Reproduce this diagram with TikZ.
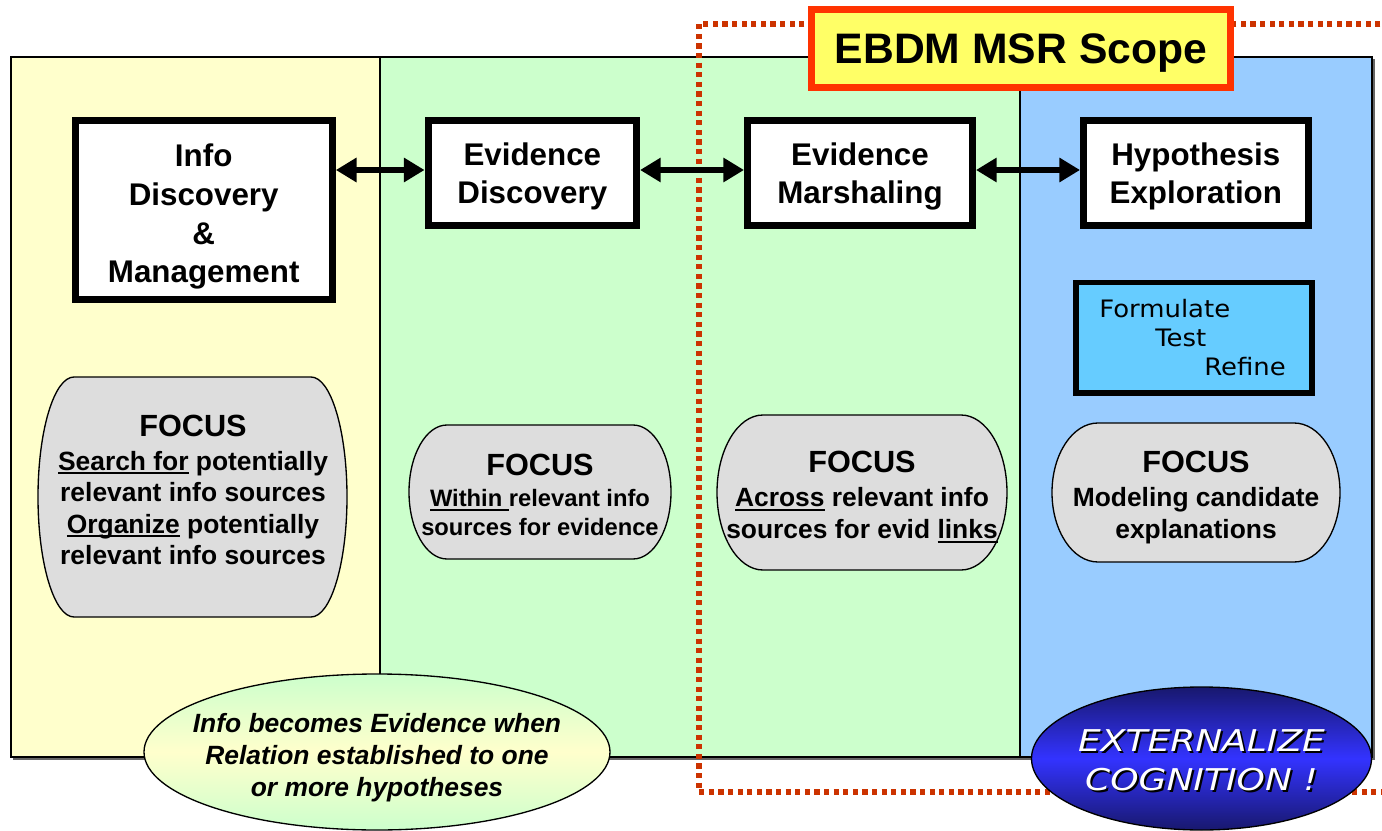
\documentclass[tikz,border=0pt]{standalone}
\usepackage{fontspec}
\setmainfont{Liberation Sans}
\newfontfamily\verdana[FakeStretch=1.08]{DejaVu Sans}
\newfontfamily\widesans[FakeStretch=1.2]{DejaVu Sans}
\usepackage{xcolor}
\usetikzlibrary{arrows.meta,shapes.geometric}

\definecolor{panelyellow}{RGB}{255,255,204}
\definecolor{panelgreen}{RGB}{204,255,204}
\definecolor{panelblue}{RGB}{153,204,255}
\definecolor{focusgray}{RGB}{221,221,221}
\definecolor{refineblue}{RGB}{102,204,255}
\definecolor{scopered}{RGB}{255,51,0}
\definecolor{scopedots}{RGB}{204,51,0}
\definecolor{scopeyellow}{RGB}{255,255,102}
\definecolor{deepnavy}{RGB}{24,24,110}
\definecolor{brightblue}{RGB}{51,51,255}
\definecolor{ellgreen}{RGB}{204,255,204}
\definecolor{ellyellow}{RGB}{255,255,204}

\newcommand{\undl}[1]{\setbox0\hbox{#1}\leavevmode\rlap{\rule[-3.2pt]{\wd0}{1.6pt}}\box0\relax}

\begin{document}
\begin{tikzpicture}[x=0.75pt,y=0.75pt,yscale=-1,xscale=1,
  stagebox/.style={draw, line width=5.25pt, fill=white, align=center, inner sep=0pt, text depth=-1pt, font=\fontsize{23.5}{29}\selectfont\bfseries},
  focusshape/.style={draw=black, line width=1pt, fill=focusgray},
  focustext/.style={align=center, inner sep=0pt, font=\fontsize{19.8}{23.6}\selectfont\bfseries},
  twoway/.style={{Triangle[length=15.5pt,width=17.5pt]}-{Triangle[length=15.5pt,width=17.5pt]}, line width=4.75pt},
  steptext/.style={anchor=west, inner sep=0pt, font=\verdana\fontsize{18}{22}\selectfont}]
\useasboundingbox (0,0) rectangle (1382,831);

%Shape: Rectangle (shadow)
\fill[black!60] (13,59) rectangle (1374.5,759.5);
%Shape: Rectangle
\draw[fill=panelyellow, line width=0.8pt] (11,57) rectangle (380,757);
%Shape: Rectangle
\draw[fill=panelgreen, line width=0.8pt] (380,57) rectangle (1020,757);
%Shape: Rectangle
\draw[fill=panelblue, line width=0.8pt] (1020,57) rectangle (1372,757);

%Shape: Dotted frame
\draw[scopedots, line width=3.9pt, dash pattern=on 3.9pt off 3.3pt] (1390,24) -- (699,24) -- (699,792) -- (1390,792);

% Text Node
\node[stagebox, minimum width=193pt, minimum height=134pt] (infodm) at (203.7,210) {\rule{0pt}{22pt}Info\\Discovery\\\&\\Management};
% Text Node
\node[stagebox, minimum width=156.4pt, minimum height=78.5pt] (evdisc) at (532.3,173.2) {Evidence\\Discovery};
% Text Node
\node[stagebox, minimum width=168.75pt, minimum height=78.5pt] (evmarsh) at (860,173.2) {Evidence\\Marshaling};
% Text Node
\node[stagebox, minimum width=168.4pt, minimum height=78.5pt] (hypexp) at (1195.8,173.2) {Hypothesis\\Exploration};

%Straight Lines
\draw[twoway] ([yshift=-2.4pt]infodm.east |- evdisc.west) -- ([yshift=-2.4pt]evdisc.west);
%Straight Lines
\draw[twoway] ([yshift=-2.4pt]evdisc.east) -- ([yshift=-2.4pt]evmarsh.west);
%Straight Lines
\draw[twoway] ([yshift=-2.4pt]evmarsh.east) -- ([yshift=-2.4pt]hypexp.west);

% Text Node
\node[draw=scopered, line width=5.25pt, fill=scopeyellow, minimum width=314.25pt, minimum height=58.5pt, inner sep=0pt, text depth=-1pt, font=\fontsize{32}{38}\selectfont\bfseries] (scope) at (1021,48.5) {EBDM MSR Scope};

%Shape: Rectangle
\node[draw, line width=4.25pt, fill=refineblue, minimum width=177pt, minimum height=82.9pt, inner sep=0pt] (ftrbox) at (1194,337.7) {};
% Text Node
\node[steptext] (formulate) at (1099,308.5) {Formulate};
% Text Node
\node[steptext] (testing) at (1155,337.5) {Test};
% Text Node
\node[steptext] (refine) at (1204,366.5) {Refine};

%Shape: Focus 1
\draw[focusshape] (74,377) -- (311,377) arc[start angle=-90, end angle=90, x radius=36, y radius=120] -- (74,617) arc[start angle=90, end angle=270, x radius=36, y radius=120] -- cycle;
% Text Node
\node[focustext] (focinfo) at (193,490) {{\fontsize{23}{27}\selectfont FOCUS}\\[1.5pt]\undl{Search for} potentially\\relevant info sources\\\undl{Organize} potentially\\relevant info sources};

%Shape: Focus 2
\draw[focusshape] (447,425) -- (633,425) arc[start angle=-90, end angle=90, x radius=38, y radius=67] -- (447,559) arc[start angle=90, end angle=270, x radius=38, y radius=67] -- cycle;
% Text Node
\node[focustext, font=\fontsize{17.8}{21.75}\selectfont\bfseries] (focdisc) at (540,495) {{\fontsize{23}{27}\selectfont FOCUS}\\[2pt]\undl{Within\ }relevant info\\sources for evidence};

%Shape: Focus 3
\draw[focusshape] (763,415) -- (961,415) arc[start angle=-90, end angle=90, x radius=46, y radius=77.5] -- (763,570) arc[start angle=90, end angle=270, x radius=46, y radius=77.5] -- cycle;
% Text Node
\node[focustext] (focmarsh) at (862,497) {{\fontsize{23}{27}\selectfont FOCUS}\\[2pt]\undl{Across} relevant info\\sources for evid \undl{links}};

%Shape: Focus 4
\draw[focusshape] (1098,423) -- (1294,423) arc[start angle=-90, end angle=90, x radius=46, y radius=69.5] -- (1098,562) arc[start angle=90, end angle=270, x radius=46, y radius=69.5] -- cycle;
% Text Node
\node[focustext] (fochyp) at (1196,497.5) {{\fontsize{23}{27}\selectfont FOCUS}\\[2pt]Modeling candidate\\explanations};

%Shape: Ellipse
\node[ellipse, draw, line width=1pt, top color=ellgreen, bottom color=ellgreen, middle color=ellyellow, minimum width=349.5pt, minimum height=117pt, inner sep=0pt] (relell) at (377,752) {};
% Text Node
\node[align=center, inner sep=0pt, font=\fontsize{19.8}{24}\selectfont\bfseries\itshape] (reltext) at (377,758) {Info becomes Evidence when\\Relation established to one\\or more hypotheses};

%Shape: Ellipse
\node[ellipse, draw, line width=1pt, top color=deepnavy, bottom color=deepnavy, middle color=brightblue, minimum width=255pt, minimum height=107.25pt, inner sep=0pt] (extell) at (1201.5,758.5) {};
% Text Node
\node[align=center, inner sep=0pt, text=black, font=\widesans\itshape\fontsize{22.5}{29.25}\selectfont] (extshadow) at (1203.5,762) {EXTERNALIZE\\COGNITION !};
% Text Node
\node[align=center, inner sep=0pt, text=white, font=\widesans\itshape\fontsize{22.5}{29.25}\selectfont] (exttext) at (1201.5,760) {EXTERNALIZE\\COGNITION !};

\end{tikzpicture}
\end{document}
